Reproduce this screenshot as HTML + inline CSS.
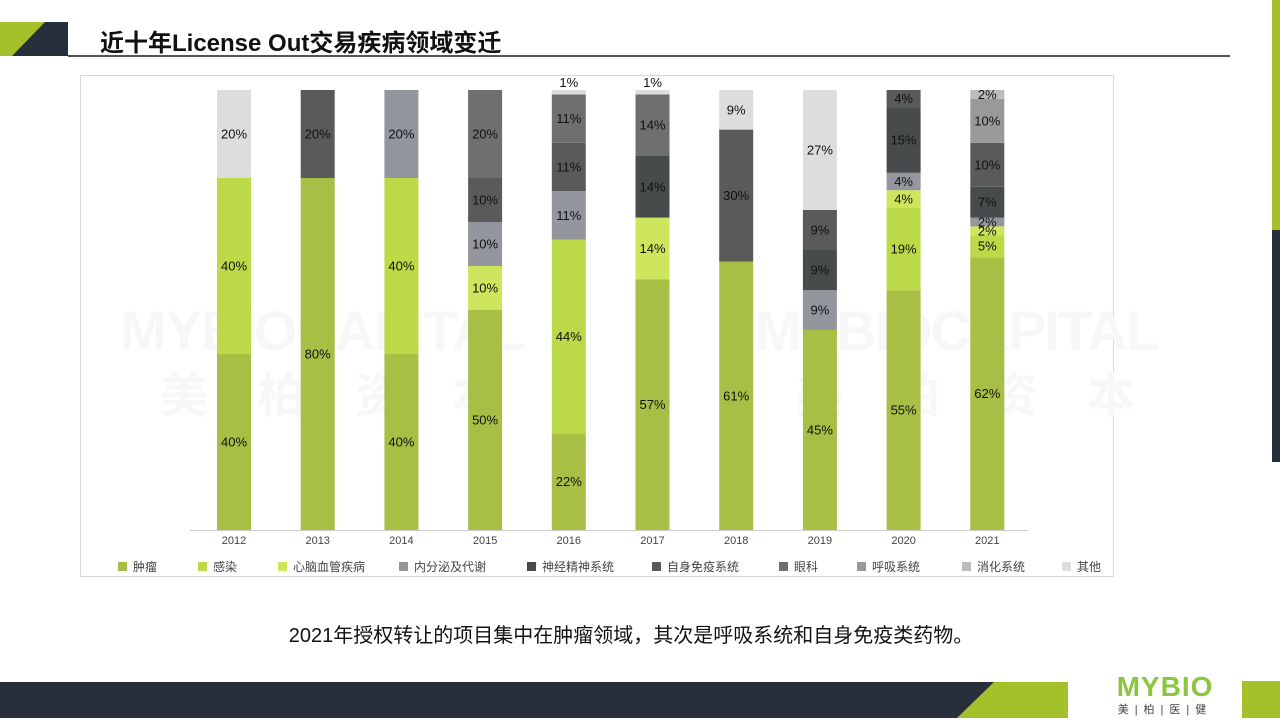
<!DOCTYPE html>
<html><head><meta charset="utf-8">
<style>
body{margin:0;width:1280px;height:720px;background:#fff;position:relative;overflow:hidden;font-family:"Liberation Sans","Noto Sans CJK SC",sans-serif;}
.abs{position:absolute;}
</style></head>
<body>
<div class="abs" style="left:0;top:22px;width:68px;height:34px;background:#a4c02a;"></div>
<div class="abs" style="left:12px;top:22px;width:56px;height:34px;background:#272f3a;clip-path:polygon(33px 0,56px 0,56px 34px,0 34px);"></div>
<div class="abs" style="left:100px;top:23px;font-size:24px;font-weight:bold;color:#111;">近十年License Out交易疾病领域变迁</div>
<div class="abs" style="left:68px;top:55px;width:1162px;height:2px;background:#555;"></div>
<div class="abs" style="left:1272px;top:0;width:8px;height:230px;background:#a4c02a;"></div>
<div class="abs" style="left:1272px;top:230px;width:8px;height:232px;background:#272f3a;"></div>

<svg class="abs" style="left:0;top:0" width="1280" height="720">
<rect x="80.5" y="75.5" width="1033" height="501" fill="none" stroke="#d8d8d8"/>
<g fill="#f7f7f7" font-weight="bold">
<text x="120" y="350" font-size="56" textLength="405">MYBIOCAPITAL</text>
<text x="160" y="412" font-size="48" textLength="340">美 柏 资 本</text>
<text x="755" y="350" font-size="56" textLength="405">MYBIOCAPITAL</text>
<text x="795" y="412" font-size="48" textLength="340">美 柏 资 本</text>
</g>
<g id="bars"></g>
<line x1="190" y1="530.5" x2="1028" y2="530.5" stroke="#ccc"/>
<g id="xlabels"></g>
<g id="legend"></g>
</svg>

<div class="abs" style="left:0;width:1262px;top:619px;text-align:center;font-size:20px;color:#111;">2021年授权转让的项目集中在肿瘤领域，其次是呼吸系统和自身免疫类药物。</div>

<div class="abs" style="left:0;top:682px;width:1068px;height:36px;background:#272f3a;"></div>
<div class="abs" style="left:957px;top:682px;width:111px;height:36px;background:#a4c02a;clip-path:polygon(37px 0,111px 0,111px 36px,0 36px);"></div>
<div class="abs" style="left:1110px;top:673px;width:110px;text-align:center;">
<div style="font-size:28px;font-weight:bold;color:#8cc63f;line-height:28px;letter-spacing:1px;">MYBIO</div>
<div style="font-size:11px;color:#444;letter-spacing:6px;">美|柏|医|健</div></div>
<div class="abs" style="left:1242px;top:681px;width:38px;height:37px;background:#a4c02a;"></div>

<script>
const years=['2012','2013','2014','2015','2016','2017','2018','2019','2020','2021'];
const categories=['肿瘤','感染','心脑血管疾病','内分泌及代谢','神经精神系统','自身免疫系统','眼科','呼吸系统','消化系统','其他'];
const colors=['#a8bf45','#bcd947','#cde65e','#94969d','#484b4b','#5a5a5a','#6f6f6f','#999999','#bcbcbc','#dddddd'];
const s_zl=[40,80,40,50,22,57,61,45,55,62];
const s_gr=[40,0,40,0,44,0,0,0,19,5];
const s_xn=[0,0,0,10,0,14,0,0,4,2];
const s_nf=[0,0,20,10,11,0,0,9,4,2];
const s_sj=[0,0,0,0,0,14,0,9,15,7];
const s_zs=[0,20,0,10,11,0,30,9,4,10];
const s_yk=[0,0,0,20,11,14,0,0,0,0];
const s_hx=[0,0,0,0,0,0,0,0,0,10];
const s_xh=[0,0,0,0,0,0,0,0,0,2];
const s_qt=[20,0,0,0,1,1,9,27,0,0];
const series=[s_zl,s_gr,s_xn,s_nf,s_sj,s_zs,s_yk,s_hx,s_xh,s_qt];
const NS='http://www.w3.org/2000/svg';
const x0=234,step=83.7,bw=34,yBase=530,yTop=90;
const xPos=i=>x0+i*step;
const yScale=f=>yBase-f*(yBase-yTop);
const bars=document.getElementById('bars');
years.forEach((y,i)=>{
  const total=series.reduce((a,s)=>a+s[i],0);
  let cum=0;
  series.forEach((s,k)=>{
    const v=s[i]; if(!v) return;
    const y1=yScale((cum+v)/total), y2=yScale(cum/total);
    const r=document.createElementNS(NS,'rect');
    r.setAttribute('x',xPos(i)-bw/2);r.setAttribute('y',y1);r.setAttribute('width',bw);r.setAttribute('height',y2-y1);
    r.setAttribute('fill',colors[k]);
    
    
    bars.appendChild(r);
    const t=document.createElementNS(NS,'text');
    t.setAttribute('x',xPos(i));
    t.setAttribute('y',v<=1?y1-3:(y1+y2)/2+4.5);
    t.setAttribute('text-anchor','middle');t.setAttribute('font-size','13');t.setAttribute('fill','#111');
    t.textContent=v+'%';
    
    
    bars.appendChild(t);
    cum+=v;
  });
  const xl=document.createElementNS(NS,'text');
  xl.setAttribute('x',xPos(i));xl.setAttribute('y',544);xl.setAttribute('text-anchor','middle');xl.setAttribute('font-size','11');xl.setAttribute('fill','#444');
  xl.textContent=y;
  
  
  document.getElementById('xlabels').appendChild(xl);
});
const lg=document.getElementById('legend');
const lx=[118,198,278,399,527,652,779,857,962,1062];
categories.forEach((c,k)=>{
  const g=document.createElementNS(NS,'g');
  
  
  const r=document.createElementNS(NS,'rect');
  r.setAttribute('x',lx[k]);r.setAttribute('y',562);r.setAttribute('width',9);r.setAttribute('height',9);r.setAttribute('fill',colors[k]);
  const t=document.createElementNS(NS,'text');
  t.setAttribute('x',lx[k]+15);t.setAttribute('y',571);t.setAttribute('font-size','12');t.setAttribute('fill','#444');
  t.textContent=c;
  g.appendChild(r);g.appendChild(t);lg.appendChild(g);
});
</script>
</body></html>
